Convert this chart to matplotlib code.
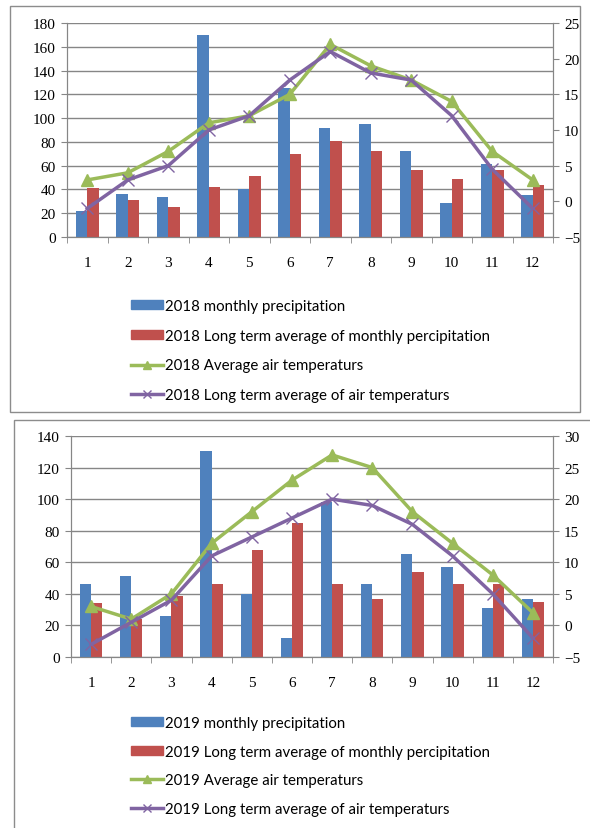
import numpy as np
import matplotlib
matplotlib.use("Agg")
import matplotlib.pyplot as plt
from matplotlib.patches import Rectangle, Patch
from matplotlib.lines import Line2D

months = list(range(1, 13))

# 2018
prec_2018 = [22, 36, 34, 170, 40, 125, 92, 95, 72, 29, 61, 35]
prec_avg_2018 = [41, 31, 25, 42, 51, 70, 81, 72, 56, 49, 56, 44]
temp_2018 = [3, 4, 7, 11, 12, 15, 22, 19, 17, 14, 7, 3]
temp_avg_2018 = [-1, 3, 5, 10, 12, 17, 21, 18, 17, 12, 4.5, -1]

# 2019
prec_2019 = [46, 51, 26, 130.5, 40, 12, 98, 46, 65, 57, 31, 37]
prec_avg_2019 = [34, 24, 38.5, 46, 68, 85, 46, 37, 54, 46, 46.5, 35]
temp_2019 = [3, 1, 5, 13, 18, 23, 27, 25, 18, 13, 8, 2]
temp_avg_2019 = [-3, 0.5, 4, 11, 14, 17, 20, 19, 16, 11, 5, -2]

BLUE = "#4F81BD"
RED = "#C0504D"
GREEN = "#9BBB59"
PURPLE = "#8064A2"
GRID = "#868686"

TICK_FONT = "Liberation Serif"
LEG_FONT = "Lato"

fig = plt.figure(figsize=(5.9, 8.29), dpi=100)

# panel frames
fig.patches.append(Rectangle((10 / 590, 1 - 413 / 829), 570 / 590, 406 / 829,
                             transform=fig.transFigure, fill=False,
                             edgecolor="#8c8c8c", lw=1.0))
fig.patches.append(Rectangle((14 / 590, -0.01), 0.99, 1 - 421 / 829 + 0.01,
                             transform=fig.transFigure, fill=False,
                             edgecolor="#8c8c8c", lw=1.0))


def panel(rect, year, prec, prec_avg, temp, temp_avg, ymax, rlim, leg_top, spacing):
    ax = fig.add_axes(rect)
    x = np.array(months)
    w = 0.28
    ax.bar(x - w / 2, prec, width=w, color=BLUE, zorder=2)
    ax.bar(x + w / 2, prec_avg, width=w, color=RED, zorder=2)
    ax.set_xlim(0.5, 12.5)
    ax.set_ylim(0, ymax)
    ax.set_yticks(np.arange(0, ymax + 1, 20))
    ax.yaxis.grid(True, color=GRID, lw=1.0, zorder=0)
    ax.set_axisbelow(True)
    ax.set_xticks(x)
    ax.set_xticks(np.arange(0.5, 13, 1), minor=True)
    ax.tick_params(axis="x", which="major", length=0, pad=14)
    ax.tick_params(axis="x", which="minor", length=4, color=GRID)
    ax.tick_params(axis="y", length=4, color=GRID, pad=4)
    for s in ["left", "bottom", "right"]:
        ax.spines[s].set_color(GRID)
    ax.spines["top"].set_visible(False)

    ax2 = ax.twinx()
    ax2.plot(x, temp, color=GREEN, lw=2.5, marker="^", ms=8, zorder=3)
    ax2.plot(x, temp_avg, color=PURPLE, lw=2.5, marker="x", ms=8, mew=1.0,
             zorder=4)
    ax2.set_ylim(*rlim)
    ax2.set_yticks(np.arange(rlim[0], rlim[1] + 1, 5))
    ax2.tick_params(axis="y", length=4, color=GRID, pad=4)
    for s in ["left", "bottom", "right"]:
        ax2.spines[s].set_color(GRID)
    ax2.spines["top"].set_visible(False)

    for a in (ax, ax2):
        for lab in a.get_xticklabels() + a.get_yticklabels():
            lab.set_fontfamily(TICK_FONT)
            lab.set_fontsize(11)

    handles = [
        Patch(color=BLUE),
        Patch(color=RED),
        Line2D([], [], color=GREEN, lw=2.5, marker="^", ms=6),
        Line2D([], [], color=PURPLE, lw=2.5, marker="x", ms=6, mew=1.0),
    ]
    labels = [
        f"{year} monthly precipitation",
        f"{year} Long term average of monthly percipitation",
        f"{year} Average air temperaturs",
        f"{year} Long term average of air temperaturs",
    ]
    fig.legend(handles, labels, loc="upper left",
               bbox_to_anchor=(125 / 590, 1 - leg_top / 829),
               frameon=False, handlelength=2.1, handleheight=0.55,
               handletextpad=0.15, labelspacing=spacing, borderaxespad=0,
               prop={"family": LEG_FONT, "size": 10.8})


panel([67 / 590, 1 - 238 / 829, 486 / 590, 214 / 829], 2018,
      prec_2018, prec_avg_2018, temp_2018, temp_avg_2018, 180, (-5, 25), 294, 1.05)
panel([71 / 590, 1 - 658 / 829, 482 / 590, 221 / 829], 2019,
      prec_2019, prec_avg_2019, temp_2019, temp_avg_2019, 140, (-5, 30), 711, 0.97)

fig.savefig("out.png", dpi=100)
